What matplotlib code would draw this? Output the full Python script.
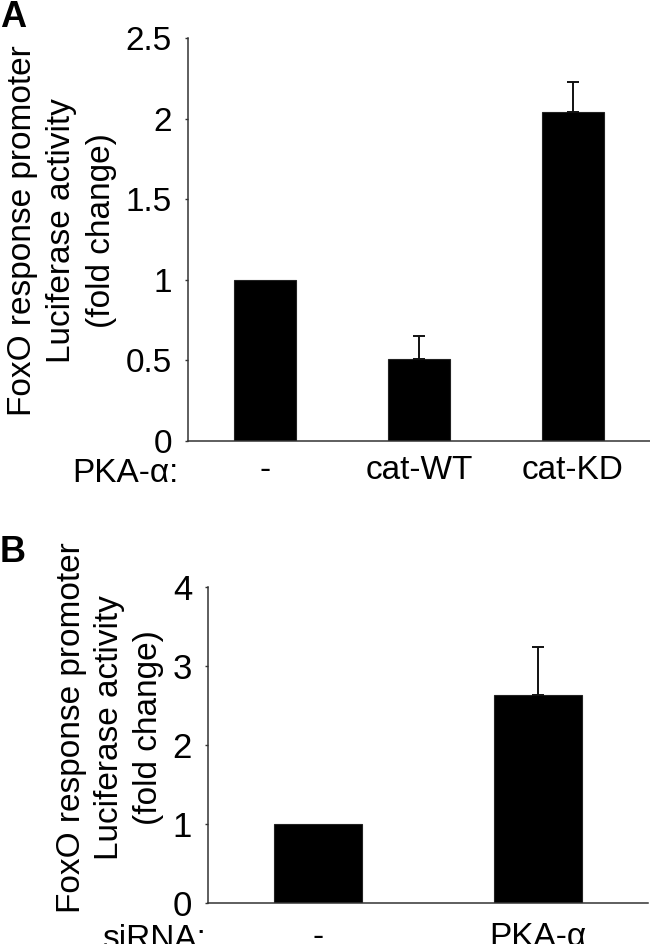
import matplotlib
matplotlib.use("Agg")
import matplotlib.pyplot as plt

plt.rcParams["font.family"] = ["Liberation Sans", "DejaVu Sans"]

# panel A data
a_groups = ["-", "cat-WT", "cat-KD"]
a_values = [1.0, 0.51, 2.04]
a_errors = [0.0, 0.14, 0.19]
a_yticks = [0, 0.5, 1, 1.5, 2, 2.5]
a_yticklabels = ["0", "0.5", "1", "1.5", "2", "2.5"]

# panel B data
b_groups = ["-", "PKA-α"]
b_values = [1.0, 2.63]
b_errors = [0.0, 0.61]
b_yticks = [0, 1, 2, 3, 4]

ylabel_text = "FoxO response promoter\nLuciferase activity\n(fold change)"

W, H = 650, 944
fig = plt.figure(figsize=(W / 100, H / 100), dpi=100)


def px_axes(x0, y_top, x1, y_bot):
    return fig.add_axes([x0 / W, 1 - y_bot / H, (x1 - x0) / W, (y_bot - y_top) / H])


def style(ax, tick_size, ypad, xpad):
    for s in ["top", "right"]:
        ax.spines[s].set_visible(False)
    for s in ["left", "bottom"]:
        ax.spines[s].set_linewidth(1.1)
        ax.spines[s].set_color("#333333")
    ax.tick_params(axis="y", length=2.5, width=1.0, color="#333333",
                   pad=ypad, labelsize=tick_size)
    ax.tick_params(axis="x", length=0, pad=xpad, labelsize=24)


def draw_bars(ax, groups, values, errors):
    x = list(range(len(groups)))
    ax.bar(x, values, width=0.4, color="black", edgecolor="#222222", linewidth=0.8)
    # only bars with a measured spread get an error bar
    ex = [i for i in x if errors[i] > 0]
    ax.errorbar(ex, [values[i] for i in ex],
                yerr=[[0] * len(ex), [errors[i] for i in ex]], fmt="none",
                ecolor="#111111", elinewidth=1.4, capsize=4, capthick=1.4)
    ax.set_xticks(x)
    ax.set_xticklabels(groups)
    ax.set_xlim(-0.5, len(groups) - 0.5)


# panel A
ax_a = px_axes(188, 38, 650, 441)
draw_bars(ax_a, a_groups, a_values, a_errors)
ax_a.set_ylim(0, 2.5)
ax_a.set_yticks(a_yticks)
ax_a.set_yticklabels(a_yticklabels)
style(ax_a, 24, 9, 10)

# panel B
ax_b = px_axes(208, 587, 648, 903)
draw_bars(ax_b, b_groups, b_values, b_errors)
ax_b.set_ylim(0, 4)
ax_b.set_yticks(b_yticks)
style(ax_b, 25, 9, 14)

# y labels
fig.text(62 / W, 1 - 231 / H, ylabel_text, rotation=90, ha="center", va="center",
         fontsize=24, linespacing=1.35, multialignment="center")
fig.text(110 / W, 1 - 728 / H, ylabel_text, rotation=90, ha="center", va="center",
         fontsize=24, linespacing=1.3, multialignment="center")

# row labels
fig.text(72 / W, 1 - 473 / H, "PKA-α:", ha="left", va="center", fontsize=24)
fig.text(102 / W, 1 - 940 / H, "siRNA:", ha="left", va="center", fontsize=24)

# panel letters
fig.text(0, 1, "A", ha="left", va="top", fontsize=26, fontweight="bold")
fig.text(0, 1 - 535 / H, "B", ha="left", va="top", fontsize=26, fontweight="bold")

fig.savefig("out.png", dpi=100)
